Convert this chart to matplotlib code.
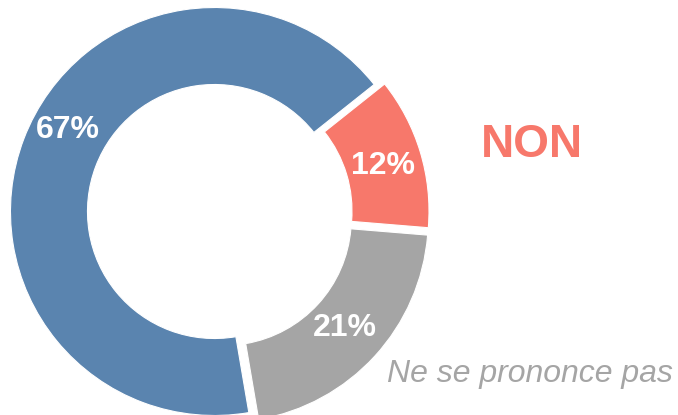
import matplotlib
matplotlib.use("Agg")
import matplotlib.pyplot as plt

labels = ["NON", "Ne se prononce pas", "OUI"]
values = [12, 21, 67]
colors = ["#F7786B", "#A5A5A5", "#5A84AF"]

plt.rcParams['font.family'] = ['Liberation Sans', 'DejaVu Sans']

fig = plt.figure(figsize=(6.78, 4.15), dpi=100)
ax = fig.add_axes([0, 0, 1, 1])

cx, cy, R = 218.4, 415 - 213, 204
# explode is in data units (pixels here)
wedges, _ = ax.pie(values, colors=colors, startangle=38.5, counterclock=False,
                   center=(cx, cy), radius=R, explode=[6.9, 8, 4.2],
                   wedgeprops=dict(width=77, edgecolor="white", linewidth=0.8))
ax.set_xlim(0, 678)
ax.set_ylim(0, 415)
ax.set_aspect("equal")
ax.axis("off")

# percentage labels
pct_pos = [(383, 166), (345, 328), (68, 130)]
for v, (x, y) in zip(values, pct_pos):
    ax.text(x, 415 - y, f"{v}%", color="white", fontsize=23, fontweight="bold",
            ha="center", va="center")

ax.text(532, 415 - 145, labels[0], color=colors[0], fontsize=33, fontweight="bold",
        ha="center", va="center")
ax.text(530, 415 - 374, labels[1], color="#A5A5A5", fontsize=23, style="italic",
        ha="center", va="center")

fig.savefig("out.png", dpi=100)
